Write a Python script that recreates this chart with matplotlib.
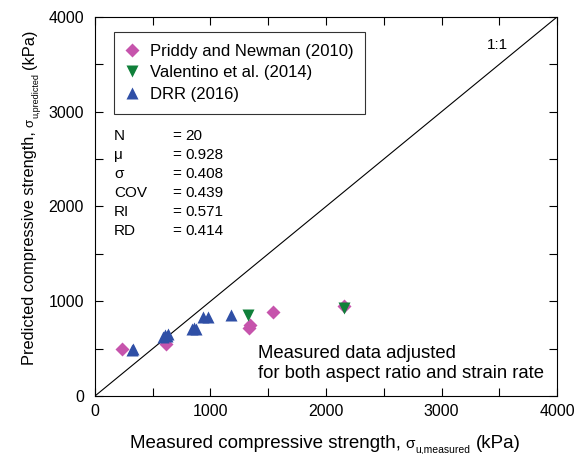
import matplotlib
matplotlib.use('Agg')
import matplotlib.pyplot as plt
from matplotlib.ticker import MultipleLocator

plt.rcParams['font.family'] = ['Liberation Sans', 'DejaVu Sans']

# measured vs predicted compressive strength (kPa)
priddyX = [236, 612, 1333, 1340, 1538, 2159]
priddyY = [493, 545, 722, 752, 890, 953]
valentinoX = [1327, 2159]
valentinoY = [855, 932]
drrX = [318, 330, 590, 605, 630, 840, 860, 875, 935, 975, 1177, 620]
drrY = [490, 496, 620, 640, 650, 712, 722, 705, 832, 835, 850, 628]

statNames = ['N', '\u03bc', '\u03c3', 'COV', 'RI', 'RD']
statValues = ['20', '0.928', '0.408', '0.439', '0.571', '0.414']


def chainLabel(fig, pieces, x0, y0, vertical):
    # pieces: (text, fontsize, gap before in points, baseline shift in points)
    prev = None
    for text, size, gap, shift in pieces:
        if vertical:
            kw = dict(rotation = 90, rotation_mode = 'anchor')
            off = (-shift, gap)
            if prev is None:
                xy, coords = (x0, y0), 'figure fraction'
            else:
                xy, coords = (x0, 1), ('figure fraction', prev)
        else:
            kw = dict()
            off = (gap, shift)
            if prev is None:
                xy, coords = (x0, y0), 'figure fraction'
            else:
                xy, coords = (1, y0), (prev, 'figure fraction')
        prev = fig.axes[0].annotate(text, xy = xy, xycoords = coords, xytext = off,
                                    textcoords = 'offset points', fontsize = size,
                                    ha = 'left', va = 'baseline', annotation_clip = False, **kw)


fig = plt.figure(figsize = (5.81, 4.54), dpi = 100)
ax = fig.add_axes([0.1635, 0.1278, 0.7952, 0.8348])

ax.plot([0, 4000], [0, 4000], color = 'black', lw = 0.8, zorder = 1)
ax.plot(priddyX, priddyY, 'D', ms = 7, color = '#C654AC', mec = 'none', label = 'Priddy and Newman (2010)', zorder = 3)
ax.plot(valentinoX, valentinoY, 'v', ms = 9, color = '#10803A', mec = 'none', label = 'Valentino et al. (2014)', zorder = 3)
ax.plot(drrX, drrY, '^', ms = 9, color = '#2F4FA6', mec = 'none', label = 'DRR (2016)', zorder = 3)

ax.set_xlim(0, 4000)
ax.set_ylim(0, 4000)
ax.xaxis.set_major_locator(MultipleLocator(1000))
ax.yaxis.set_major_locator(MultipleLocator(1000))
ax.xaxis.set_minor_locator(MultipleLocator(500))
ax.yaxis.set_minor_locator(MultipleLocator(500))
ax.tick_params(which = 'both', direction = 'in', top = True, right = True, labelsize = 11.5, width = 0.8, pad = 6)
ax.tick_params(axis = 'y', pad = 8)
ax.tick_params(which = 'major', length = 6)
ax.tick_params(which = 'minor', length = 6)
for s in ax.spines.values():
    s.set_linewidth(0.8)

chainLabel(fig, [('Measured compressive strength,', 13.5, 0, 0),
                 ('\u03c3', 11, 3.5, 0),
                 ('u,measured', 7.5, 0.5, -3.5),
                 ('(kPa)', 13.5, 3.5, 0)], 0.2238, 0.0132, False)
chainLabel(fig, [('Predicted compressive strength,', 11.8, 0, 0),
                 ('\u03c3', 9.5, 3, 0),
                 ('u,predicted', 6.5, 0.5, -3),
                 ('(kPa)', 11.8, 3, 0)], 0.0585, 0.196, True)

leg = ax.legend(loc = 'upper left', bbox_to_anchor = (0.041, 0.9604), fontsize = 12, frameon = True,
                fancybox = False, edgecolor = 'black', handletextpad = 0.65, borderpad = 0.7,
                labelspacing = 0.4, handlelength = 0.8, numpoints = 1, borderaxespad = 0)
leg.get_frame().set_linewidth(0.8)

for i in range(len(statNames)):
    y = 2745 - i * 200
    ax.text(165, y, statNames[i], fontsize = 11, va = 'center')
    ax.text(667, y, '=', fontsize = 11, va = 'center')
    ax.text(780, y, statValues[i], fontsize = 11, va = 'center')

ax.text(3390, 3700, '1:1', fontsize = 11, va = 'center')
ax.text(1411, 340, 'Measured data adjusted\nfor both aspect ratio and strain rate', fontsize = 13.3, va = 'center', linespacing = 1.25)

fig.savefig('out.png', dpi = 100)
